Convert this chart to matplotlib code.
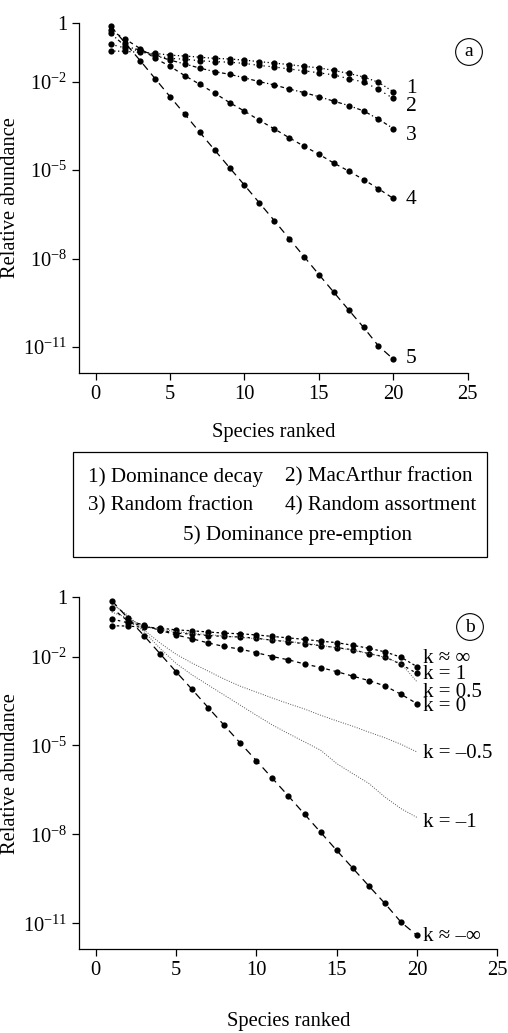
import numpy as np
import matplotlib
matplotlib.use("Agg")
import matplotlib.pyplot as plt
from matplotlib.patches import Rectangle

plt.rcParams['font.family'] = ['Liberation Serif', 'DejaVu Serif']
plt.rcParams['mathtext.fontset'] = 'custom'
plt.rcParams['mathtext.rm'] = 'Liberation Serif'
plt.rcParams['font.size'] = 14.5

# species rank
rank = np.arange(1, 21)

# log10 of relative abundance
dom_decay = [-0.96, -0.97, -1.01, -1.04, -1.10, -1.13, -1.17, -1.21, -1.23, -1.27,
             -1.32, -1.37, -1.42, -1.48, -1.53, -1.62, -1.72, -1.84, -2.02, -2.34]
macarthur = [-0.73, -0.86, -0.96, -1.11, -1.21, -1.24, -1.29, -1.32, -1.34, -1.38,
             -1.45, -1.50, -1.57, -1.63, -1.70, -1.77, -1.90, -2.01, -2.26, -2.57]
rand_fraction = [-0.36, -0.80, -0.93, -1.11, -1.27, -1.40, -1.54, -1.66, -1.75, -1.87,
                 -2.00, -2.11, -2.25, -2.37, -2.51, -2.66, -2.81, -2.99, -3.27, -3.59]
rand_assort = [-0.25, -0.56, -0.88, -1.21, -1.48, -1.80, -2.09, -2.39, -2.71, -3.00,
               -3.31, -3.60, -3.90, -4.19, -4.46, -4.76, -5.03, -5.32, -5.63, -5.96]
dom_preempt = [-0.11, -0.70, -1.29, -1.90, -2.51, -3.11, -3.72, -4.32, -4.92, -5.51,
               -6.11, -6.71, -7.32, -7.93, -8.54, -9.14, -9.74, -10.33, -10.96, -11.41]

# power fraction model, intermediate k values (panel b, lines only)
k_half = [-0.50, -0.70, -0.99, -1.08, -1.16, -1.22, -1.26, -1.31, -1.35, -1.40,
          -1.44, -1.49, -1.55, -1.62, -1.70, -1.79, -1.89, -2.03, -2.23, -2.85]
k_mhalf = [-0.23, -0.60, -1.10, -1.54, -1.92, -2.22, -2.49, -2.76, -3.00, -3.20,
           -3.40, -3.59, -3.77, -3.98, -4.17, -4.35, -4.55, -4.74, -4.96, -5.22]
k_mone = [-0.16, -0.67, -1.16, -1.72, -2.23, -2.62, -2.96, -3.30, -3.64, -3.98,
          -4.31, -4.60, -4.88, -5.16, -5.61, -5.95, -6.28, -6.74, -7.13, -7.43]

legend_lines = [["1) Dominance decay", "2) MacArthur fraction"],
                ["3) Random fraction", "4) Random assortment"],
                ["5) Dominance pre-emption"]]

ytick_pos = [0, -2, -5, -8, -11]
ytick_lab = ["1", r"$\mathregular{10^{-2}}$", r"$\mathregular{10^{-5}}$",
             r"$\mathregular{10^{-8}}$", r"$\mathregular{10^{-11}}$"]

W, H = 508, 1033
fig = plt.figure(figsize=(W / 100, H / 100), dpi=100)


def setup(ax, xmin, xlabelpad):
    ax.set_yscale('log')
    ax.set_xlim(xmin, 25)
    ax.set_ylim(10 ** -11.88, 1)
    for s in ['top', 'right']:
        ax.spines[s].set_visible(False)
    for s in ['left', 'bottom']:
        ax.spines[s].set_linewidth(0.9)
    ax.set_xticks([0, 5, 10, 15, 20, 25])
    ax.set_yticks([10.0 ** p for p in ytick_pos])
    ax.set_yticklabels(ytick_lab)
    ax.yaxis.set_minor_locator(matplotlib.ticker.NullLocator())
    ax.tick_params(direction='out', length=5, width=0.9, pad=3.5, labelsize=14.8)
    ax.set_ylabel("Relative abundance", fontsize=14.8)
    ax.set_xlabel("Species ranked", fontsize=14.8, labelpad=xlabelpad)


def curve(ax, vals, ls, marker=True, **kw):
    y = 10.0 ** np.array(vals)
    if marker:
        ax.plot(rank, y, color='k', lw=0.9, linestyle=ls, marker='o', ms=4.5,
                mec='none', clip_on=False, **kw)
    else:
        ax.plot(rank, y, color='#555555', lw=0.7, linestyle=ls, clip_on=False, **kw)


# ---- panel a ----
axa = fig.add_axes([79.3 / W, 1 - 373 / H, 388.4 / W, 350.3 / H])
setup(axa, -1.1, 14)
axa.yaxis.set_label_coords(-0.153, 0.5)
curve(axa, dom_decay, (0, (1, 2)))
curve(axa, macarthur, (0, (1, 3)))
curve(axa, rand_fraction, (0, (3, 2, 1, 2)))
curve(axa, rand_assort, (0, (3, 3)))
curve(axa, dom_preempt, (0, (6, 4)))
for lab, ly in zip(["1", "2", "3", "4", "5"], [-2.22, -2.85, -3.81, -6.01, -11.38]):
    axa.text(20.85, 10 ** ly, lab, ha='left', va='center', fontsize=15.5)

fig.text(469 / W, 1 - 52 / H, "a", ha='center', va='center', fontsize=14,
         bbox=dict(boxstyle='circle,pad=0.25', fc='none', ec='k', lw=0.8))

# ---- legend box ----
fig.patches.append(Rectangle((73 / W, 1 - 556.7 / H), 414 / W, 105 / H,
                             transform=fig.transFigure, fill=False, ec='k', lw=0.9))
row_y = [476.7, 506, 535]
col_x = [88, 285]
for i, row in enumerate(legend_lines):
    if len(row) == 2:
        for j, t in enumerate(row):
            fig.text(col_x[j] / W, 1 - row_y[i] / H, t, ha='left', va='center', fontsize=15.2)
    else:
        fig.text(183 / W, 1 - row_y[i] / H, row[0], ha='left', va='center', fontsize=15.2)

# ---- panel b ----
axb = fig.add_axes([79.3 / W, 1 - 949.3 / H, 418 / W, 352 / H])
setup(axb, -1.02, 23)
axb.yaxis.set_label_coords(-0.1426, 0.5)
curve(axb, dom_decay, (0, (2, 2)))
curve(axb, macarthur, (0, (2, 3)))
curve(axb, k_half, (0, (1, 1.5)), marker=False)
curve(axb, rand_fraction, (0, (3, 3)))
curve(axb, k_mhalf, (0, (1, 1.5)), marker=False)
curve(axb, k_mone, (0, (1, 1.5)), marker=False)
curve(axb, dom_preempt, (0, (6, 4)))
klabels = ["k \u2248 \u221e", "k = 1", "k = 0.5", "k = 0", "k = \u20130.5", "k = \u20131",
           "k \u2248 \u2013\u221e"]
for lab, ly in zip(klabels, [-2.08, -2.62, -3.20, -3.70, -5.26, -7.59, -11.44]):
    axb.text(20.4, 10 ** ly, lab, ha='left', va='center', fontsize=15)

fig.text(470 / W, 1 - 627 / H, "b", ha='center', va='center', fontsize=14,
         bbox=dict(boxstyle='circle,pad=0.25', fc='none', ec='k', lw=0.8))

fig.savefig("out.png", dpi=100)
